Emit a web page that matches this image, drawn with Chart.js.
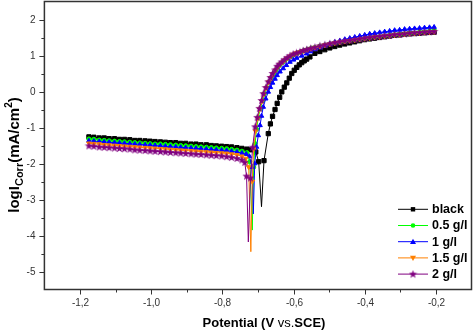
<!DOCTYPE html>
<html>
<head>
<meta charset="utf-8">
<script src="https://cdn.jsdelivr.net/npm/chart.js@4.4.0/dist/chart.umd.min.js"></script>
<style>
	html, body { margin: 0; padding: 0; background: #fff; }
</style>
</head>
<body>
<canvas id="tafel" width="474" height="331"></canvas>
<script>
// potentials (V vs. SCE) shared by all curves
const cathE = [ -1.175, -1.161, -1.146, -1.132, -1.118, -1.103, -1.089, -1.075, -1.060, -1.046, -1.032,
	-1.017, -1.003, -0.989, -0.974, -0.960, -0.946, -0.931, -0.917, -0.903, -0.888, -0.874, -0.860,
	-0.845, -0.831, -0.817, -0.802, -0.788, -0.774, -0.759, -0.745 ];
const anodE = [ -0.540, -0.526, -0.512, -0.498, -0.484, -0.470, -0.456, -0.442, -0.428, -0.414, -0.400,
	-0.386, -0.372, -0.358, -0.344, -0.330, -0.316, -0.302, -0.288, -0.274, -0.260, -0.246, -0.232,
	-0.218, -0.205 ];

// black
const blackCath = [ -1.26, -1.27, -1.29, -1.29, -1.31, -1.31, -1.33, -1.33, -1.34, -1.36, -1.36, -1.37,
	-1.38, -1.39, -1.40, -1.41, -1.42, -1.42, -1.44, -1.44, -1.46, -1.46, -1.48, -1.48, -1.50, -1.51,
	-1.52, -1.53, -1.54, -1.56, -1.58 ];
const blackMidE = [ -0.731, -0.718, -0.706, -0.698, -0.690, -0.683, -0.671, -0.665, -0.659, -0.652, -0.646,
	-0.639, -0.633, -0.626, -0.619, -0.612, -0.605, -0.598, -0.591, -0.584, -0.577, -0.570, -0.563, -0.554 ];
const blackMidI = [ -1.60, -1.62, -1.68, -1.95, -3.20, -1.92, -1.17, -0.90, -0.69, -0.50, -0.33,
	-0.16, -0.01, 0.12, 0.24, 0.37, 0.50, 0.59, 0.67, 0.74, 0.80, 0.85, 0.90, 0.96 ];
const blackAnod = [ 1.06, 1.11, 1.16, 1.21, 1.25, 1.29, 1.32, 1.35, 1.38, 1.41, 1.44, 1.46, 1.48, 1.50,
	1.52, 1.54, 1.56, 1.57, 1.59, 1.60, 1.61, 1.62, 1.63, 1.64, 1.65 ];

// 0.5 g/l
const greenCath = [ -1.32, -1.33, -1.35, -1.36, -1.37, -1.38, -1.39, -1.40, -1.41, -1.42, -1.43, -1.44,
	-1.45, -1.46, -1.46, -1.47, -1.48, -1.49, -1.50, -1.51, -1.52, -1.53, -1.54, -1.55, -1.56, -1.57,
	-1.58, -1.59, -1.61, -1.63, -1.66 ];
const greenMidE = [ -0.731, -0.723, -0.716, -0.712, -0.708, -0.704, -0.699, -0.693, -0.687, -0.682, -0.675,
	-0.668, -0.662, -0.656, -0.649, -0.643, -0.637, -0.630, -0.623, -0.615, -0.607, -0.598, -0.589,
	-0.579, -0.570, -0.560, -0.550 ];
const greenMidI = [ -1.70, -1.95, -3.85, -2.10, -1.45, -1.05, -0.72, -0.47, -0.25, -0.06, 0.11, 0.27,
	0.39, 0.50, 0.60, 0.69, 0.76, 0.82, 0.88, 0.93, 0.98, 1.03, 1.07, 1.10, 1.14, 1.17, 1.20 ];
const greenAnod = [ 1.22, 1.26, 1.29, 1.32, 1.35, 1.37, 1.39, 1.41, 1.43, 1.45, 1.47, 1.49, 1.51, 1.52,
	1.54, 1.55, 1.57, 1.58, 1.59, 1.61, 1.62, 1.64, 1.65, 1.67, 1.70 ];

// 1 g/l
const blueCath = [ -1.37, -1.38, -1.39, -1.40, -1.41, -1.42, -1.43, -1.44, -1.45, -1.46, -1.47, -1.48,
	-1.49, -1.50, -1.51, -1.52, -1.53, -1.54, -1.55, -1.56, -1.57, -1.58, -1.59, -1.60, -1.61, -1.62,
	-1.63, -1.64, -1.66, -1.68, -1.71 ];
const blueMidE = [ -0.733, -0.724, -0.717, -0.713, -0.709, -0.704, -0.699, -0.694, -0.690, -0.685, -0.678,
	-0.671, -0.665, -0.659, -0.652, -0.646, -0.638, -0.629, -0.620, -0.610, -0.600, -0.591, -0.577,
	-0.563, -0.552 ];
const blueMidI = [ -1.74, -1.80, -2.10, -3.40, -2.00, -1.54, -1.22, -0.94, -0.68, -0.43, -0.20, -0.01,
	0.12, 0.24, 0.35, 0.45, 0.55, 0.64, 0.73, 0.82, 0.88, 0.93, 0.99, 1.05, 1.11 ];
const blueAnod = [ 1.17, 1.22, 1.27, 1.32, 1.37, 1.41, 1.45, 1.48, 1.51, 1.54, 1.57, 1.60, 1.62, 1.64,
	1.66, 1.68, 1.70, 1.71, 1.73, 1.74, 1.75, 1.76, 1.77, 1.78, 1.79 ];

// 1.5 g/l
const orangeCath = [ -1.44, -1.45, -1.46, -1.48, -1.49, -1.50, -1.51, -1.52, -1.53, -1.54, -1.55, -1.56,
	-1.57, -1.58, -1.59, -1.60, -1.61, -1.62, -1.63, -1.64, -1.65, -1.66, -1.67, -1.68, -1.69, -1.70,
	-1.71, -1.72, -1.74, -1.76, -1.80 ];
const orangeMidE = [ -0.734, -0.726, -0.720, -0.716, -0.712, -0.707, -0.701, -0.695, -0.689, -0.684, -0.677,
	-0.670, -0.664, -0.658, -0.651, -0.645, -0.639, -0.632, -0.625, -0.617, -0.609, -0.600, -0.591,
	-0.581, -0.572, -0.562, -0.551 ];
const orangeMidI = [ -1.86, -2.10, -4.45, -2.50, -1.60, -1.10, -0.75, -0.49, -0.27, -0.08, 0.10, 0.26,
	0.38, 0.49, 0.59, 0.68, 0.75, 0.81, 0.87, 0.93, 0.98, 1.03, 1.07, 1.10, 1.13, 1.16, 1.19 ];
const orangeAnod = [ 1.22, 1.25, 1.29, 1.32, 1.35, 1.37, 1.39, 1.41, 1.43, 1.45, 1.47, 1.49, 1.51, 1.52,
	1.54, 1.55, 1.57, 1.58, 1.59, 1.61, 1.62, 1.63, 1.64, 1.65, 1.66 ];

// 2 g/l
const purpleCath = [ -1.51, -1.52, -1.54, -1.55, -1.56, -1.57, -1.58, -1.59, -1.60, -1.62, -1.63, -1.64,
	-1.65, -1.66, -1.67, -1.68, -1.69, -1.70, -1.71, -1.72, -1.73, -1.74, -1.75, -1.76, -1.77, -1.78,
	-1.79, -1.81, -1.83, -1.86, -1.90 ];
const purpleMidE = [ -0.737, -0.732, -0.727, -0.721, -0.715, -0.708, -0.702, -0.696, -0.690, -0.685, -0.678,
	-0.671, -0.665, -0.659, -0.652, -0.646, -0.640, -0.633, -0.626, -0.618, -0.610, -0.601, -0.592,
	-0.582, -0.573, -0.563, -0.552 ];
const purpleMidI = [ -1.97, -2.35, -4.18, -2.40, -1.55, -0.98, -0.72, -0.47, -0.25, -0.06, 0.11, 0.27,
	0.39, 0.50, 0.60, 0.70, 0.76, 0.82, 0.88, 0.94, 0.99, 1.04, 1.07, 1.10, 1.14, 1.17, 1.20 ];
const purpleAnod = [ 1.23, 1.27, 1.30, 1.33, 1.36, 1.38, 1.40, 1.42, 1.44, 1.46, 1.48, 1.50, 1.52, 1.53,
	1.55, 1.56, 1.58, 1.59, 1.60, 1.62, 1.63, 1.64, 1.65, 1.66, 1.67 ];

const labels = [ 'black', '0.5 g/l', '1 g/l', '1.5 g/l', '2 g/l' ];
const colors = [ '#000000', '#00ff00', '#0000ff', '#ff8000', '#800080' ];
const markers = [ 'square', 'circle', 'up', 'down', 'star' ];

function curve(cathI, midE, midI, anodI) {
	const pts = [];
	cathE.forEach((e, i) => pts.push({ x: e, y: cathI[i] }));
	midE.forEach((e, i) => pts.push({ x: e, y: midI[i] }));
	anodE.forEach((e, i) => pts.push({ x: e, y: anodI[i] }));
	return pts;
}

// filled star marker
const starImg = document.createElement('canvas');
starImg.width = 9;
starImg.height = 9;
(function() {
	const c = starImg.getContext('2d');
	c.beginPath();
	for (let k = 0; k < 10; k++) {
		const r = k % 2 ? 1.8 : 4.3;
		const a = -Math.PI / 2 + k * Math.PI / 5;
		c.lineTo(4.5 + r * Math.cos(a), 4.7 + r * Math.sin(a));
	}
	c.closePath();
	c.fillStyle = colors[4];
	c.fill();
})();

function markerRadius(r) {
	return (ctx) => (ctx.raw && ctx.raw.y < -2.5 ? 0 : r);
}

function drawMarker(c, kind, x, y, color) {
	c.fillStyle = color;
	c.beginPath();
	if (kind === 'square') {
		c.rect(x - 2.2, y - 2.2, 4.4, 4.4);
	} else if (kind === 'circle') {
		c.arc(x, y, 2.3, 0, Math.PI * 2);
	} else if (kind === 'up') {
		c.moveTo(x, y - 3);
		c.lineTo(x + 3, y + 2.2);
		c.lineTo(x - 3, y + 2.2);
	} else if (kind === 'down') {
		c.moveTo(x, y + 3);
		c.lineTo(x + 3, y - 2.2);
		c.lineTo(x - 3, y - 2.2);
	} else {
		c.drawImage(starImg, x - 4.5, y - 4.5);
		return;
	}
	c.closePath();
	c.fill();
}

function drawParts(c, parts, cx, baseY) {
	let total = 0;
	parts.forEach((p) => {
		c.font = p[1];
		total += c.measureText(p[0]).width;
	});
	let x = cx - total / 2;
	parts.forEach((p) => {
		c.font = p[1];
		c.fillText(p[0], x, baseY + p[2]);
		x += c.measureText(p[0]).width;
	});
}

const tickFont = '10px "Liberation Sans", Arial';

// frame, ticks, tick labels, titles and legend
const decor = {
	id: 'decor',
	afterDraw(chart) {
		const c = chart.ctx;
		const a = chart.chartArea;
		const xs = chart.scales.x;
		const ys = chart.scales.y;
		c.save();

		c.strokeStyle = '#333';
		c.lineWidth = 1.5;
		c.strokeRect(a.left, a.top, a.right - a.left, a.bottom - a.top);

		c.lineWidth = 1;
		c.font = tickFont;
		c.fillStyle = '#333';
		c.beginPath();
		c.textAlign = 'center';
		c.textBaseline = 'middle';
		xs.ticks.forEach((t) => {
			if (t.value <= xs.min + 1e-6 || t.value >= xs.max - 1e-6) return;
			const px = Math.round(xs.getPixelForValue(t.value)) + 0.5;
			const len = t.label ? 5 : 3;
			c.moveTo(px, a.bottom);
			c.lineTo(px, a.bottom + len);
			if (t.label) c.fillText(t.label, px, 303.5);
		});
		c.textAlign = 'right';
		ys.ticks.forEach((t) => {
			if (t.value <= ys.min + 1e-6 || t.value >= ys.max - 1e-6) return;
			const py = Math.round(ys.getPixelForValue(t.value)) + 0.5;
			const len = t.label ? 5 : 3;
			c.moveTo(a.left, py);
			c.lineTo(a.left - len, py);
			if (t.label) c.fillText(t.label, 35.5, py);
		});
		c.stroke();

		// x title
		c.fillStyle = '#000';
		c.textBaseline = 'alphabetic';
		c.textAlign = 'left';
		const xParts = [
			[ 'Potential (V ', 'bold 13px "Liberation Sans", Arial', 0 ],
			[ 'vs.', '13px "Liberation Sans", Arial', 0 ],
			[ 'SCE)', 'bold 13px "Liberation Sans", Arial', 0 ]
		];
		drawParts(c, xParts, 264, 327);

		// y title
		c.save();
		c.translate(19, 155);
		c.rotate(-Math.PI / 2);
		const yParts = [
			[ 'logI', 'bold 15px "Liberation Sans", Arial', 0 ],
			[ 'Corr', 'bold 11px "Liberation Sans", Arial', 4 ],
			[ '(mA/cm', 'bold 15px "Liberation Sans", Arial', 0 ],
			[ '2', 'bold 10px "Liberation Sans", Arial', -7 ],
			[ ')', 'bold 15px "Liberation Sans", Arial', 0 ]
		];
		drawParts(c, yParts, 0, 0);
		c.restore();

		// legend
		chart.data.datasets.forEach((ds, i) => {
			const y = a.bottom - 80.2 + i * 16.2;
			c.strokeStyle = ds.borderColor;
			c.lineWidth = 1;
			c.beginPath();
			c.moveTo(a.right - 73.5, y);
			c.lineTo(a.right - 43.5, y);
			c.stroke();
			drawMarker(c, markers[i], a.right - 58.5, y, ds.borderColor);
			c.fillStyle = '#000';
			c.font = 'bold 12.5px "Liberation Sans", Arial';
			c.textBaseline = 'middle';
			c.fillText(ds.label, a.right - 39.5, y + 0.5);
		});
		c.restore();
	}
};

// keep the plot box where the reference has it
function noPad(s) {
	s.paddingTop = 0;
	s.paddingBottom = 0;
	s.paddingLeft = 0;
	s.paddingRight = 0;
}

const chart = new Chart(document.getElementById('tafel').getContext('2d'), {
	type: 'scatter',
	data: {
		datasets: [
			{
				label: labels[0],
				data: curve(blackCath, blackMidE, blackMidI, blackAnod),
				borderColor: colors[0],
				backgroundColor: colors[0],
				pointStyle: 'rect',
				pointRadius: markerRadius(3),
				order: 5
			},
			{
				label: labels[1],
				data: curve(greenCath, greenMidE, greenMidI, greenAnod),
				borderColor: colors[1],
				backgroundColor: colors[1],
				pointStyle: 'circle',
				pointRadius: markerRadius(2.1),
				order: 4
			},
			{
				label: labels[2],
				data: curve(blueCath, blueMidE, blueMidI, blueAnod),
				borderColor: colors[2],
				backgroundColor: colors[2],
				pointStyle: 'triangle',
				pointRadius: markerRadius(2.6),
				order: 3
			},
			{
				label: labels[3],
				data: curve(orangeCath, orangeMidE, orangeMidI, orangeAnod),
				borderColor: colors[3],
				backgroundColor: colors[3],
				pointStyle: 'triangle',
				pointRotation: 180,
				pointRadius: markerRadius(2.6),
				order: 2
			},
			{
				label: labels[4],
				data: curve(purpleCath, purpleMidE, purpleMidI, purpleAnod),
				borderColor: colors[4],
				backgroundColor: colors[4],
				pointStyle: starImg,
				pointRadius: markerRadius(4),
				order: 1
			}
		]
	},
	options: {
		responsive: false,
		animation: false,
		events: [],
		showLine: true,
		elements: {
			line: { borderWidth: 1, tension: 0 },
			point: { borderWidth: 1 }
		},
		layout: { autoPadding: false, padding: { top: 1.5, right: 2.5, left: 0, bottom: 0 } },
		scales: {
			x: {
				type: 'linear',
				min: -1.3,
				max: -0.1,
				grid: { display: false },
				border: { display: false },
				afterFit: (s) => { s.height = 41.5; noPad(s); },
				ticks: {
					display: false,
					stepSize: 0.1,
					autoSkip: false,
					maxRotation: 0,
					callback: function(v) {
						const k = Math.round(v * 10);
						if (k % 2 !== 0 || k === -13 || k === -1) return '';
						return (k / 10).toFixed(1).replace('.', ',');
					}
				}
			},
			y: {
				min: -5.5,
				max: 2.5,
				grid: { display: false },
				border: { display: false },
				afterFit: (s) => { s.width = 44.4; noPad(s); },
				ticks: {
					display: false,
					stepSize: 0.5,
					autoSkip: false,
					callback: function(v) {
						return Number.isInteger(v) ? String(v) : '';
					}
				}
			}
		},
		plugins: {
			legend: { display: false },
			tooltip: { enabled: false }
		}
	},
	plugins: [ decor ]
});
</script>
</body>
</html>
